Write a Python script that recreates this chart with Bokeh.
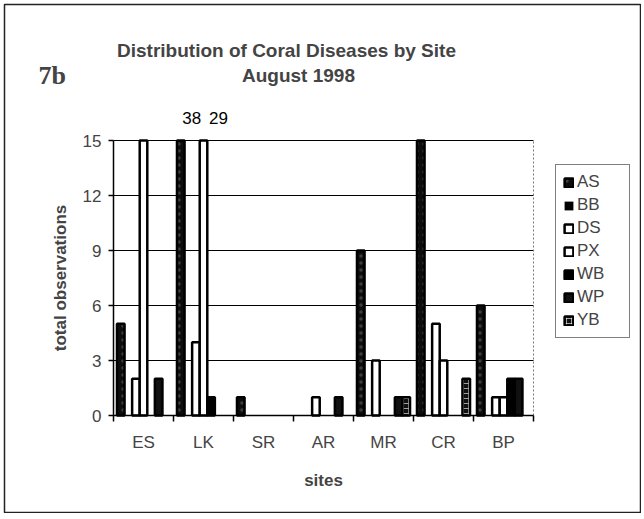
from bokeh.plotting import figure
from bokeh.models import (ColumnDataSource, FixedTicker, Legend, LegendItem, Label,
                          Range1d, LinearAxis)
from bokeh.embed import file_html
from bokeh.resources import INLINE
import numpy as np

sites = ["ES", "LK", "SR", "AR", "MR", "CR", "BP"]
series = ["AS", "BB", "DS", "PX", "WB", "WP", "YB"]
AS = [5, 38, 1, 0, 9, 15, 6]
BB = [0, 0, 0, 0, 0, 0, 0]
DS = [2, 4, 0, 1, 3, 5, 1]
PX = [15, 29, 0, 0, 0, 3, 1]
WB = [0, 1, 0, 0, 0, 0, 2]
WP = [2, 0, 0, 1, 1, 0, 2]
YB = [0, 0, 0, 0, 1, 2, 0]
values = {"AS": AS, "BB": BB, "DS": DS, "PX": PX, "WB": WB, "WP": WP, "YB": YB}
y_ticks = [0, 3, 6, 9, 12, 15]
YMAX = 15
title1 = "Distribution of Coral Diseases by Site"
title2 = "August 1998"
fig_tag = "7b"

styles = {
    "AS": dict(fill_color="#0d0d0d", hatch_pattern="dot", hatch_color="white", hatch_alpha=0.2, hatch_scale=7),
    "BB": dict(fill_color="black"),
    "DS": dict(fill_color="white"),
    "PX": dict(fill_color="white"),
    "WB": dict(fill_color="black"),
    "WP": dict(fill_color="#111111", hatch_pattern="v_line", hatch_color="white", hatch_alpha=0.8, hatch_scale=5, hatch_weight=1),
    "YB": dict(fill_color="#111111", hatch_pattern="cross", hatch_color="white", hatch_alpha=0.6, hatch_scale=5, hatch_weight=1),
}

FONT = "Liberation Sans"
# layout in picture pixels
W, H = 641, 513
BORDER = 4                                     # chart border inset
PA_L, PA_R, PA_T, PA_B = 113, 533, 140, 415    # plot area
UX = (PA_R - PA_L) / len(sites)
UY = (PA_B - PA_T) / YMAX

def dx(px):
    return (px - PA_L) / UX

def dy(py):
    return (PA_B - py) / UY

p = figure(width=W, height=H, output_backend="svg", toolbar_location=None,
           x_range=Range1d(dx(BORDER), dx(W)), y_range=Range1d(dy(H), dy(BORDER)),
           min_border=0, min_border_left=BORDER, min_border_top=BORDER)
p.xaxis.visible = False
p.yaxis.visible = False
p.grid.visible = False
p.outline_line_color = "#222222"
p.outline_line_width = 1.5

# horizontal gridlines across the plot area
grid_src = ColumnDataSource(dict(y=y_ticks[1:]))
p.segment(x0=0, x1=len(sites), y0="y", y1="y", source=grid_src, line_color="black", line_width=1.2)
# dotted right border of plot area
p.segment(x0=[len(sites)], x1=[len(sites)], y0=[0], y1=[YMAX], line_color="#777777",
          line_width=1, line_dash="2 2")

xa = LinearAxis(ticker=FixedTicker(ticks=[i + 0.5 for i in range(len(sites))],
                                   minor_ticks=list(range(len(sites) + 1))),
                major_label_overrides={i + 0.5: s for i, s in enumerate(sites)},
                fixed_location=0, bounds=(0, len(sites)))
xa.major_tick_out = 0
xa.major_tick_in = 0
xa.minor_tick_out = 6
xa.minor_tick_in = 0
xa.axis_line_color = "black"
xa.axis_line_width = 1.5
xa.minor_tick_line_color = "black"
xa.minor_tick_line_width = 1.5
xa.major_label_text_font = FONT
xa.major_label_text_font_size = "17px"
xa.major_label_standoff = 11
xa.axis_label = "sites"
xa.axis_label_text_font = FONT
xa.axis_label_text_font_style = "bold"
xa.axis_label_text_font_size = "17px"
xa.axis_label_standoff = 16
p.add_layout(xa, "below")

ya = LinearAxis(ticker=FixedTicker(ticks=y_ticks), fixed_location=0, bounds=(0, YMAX))
ya.major_tick_out = 5
ya.major_tick_in = 0
ya.minor_tick_out = 0
ya.minor_tick_in = 0
ya.axis_line_color = "black"
ya.axis_line_width = 1.5
ya.major_tick_line_width = 1.5
ya.major_label_text_font = FONT
ya.major_label_text_font_size = "17px"
ya.major_label_standoff = 7
ya.axis_label = "total observations"
ya.axis_label_text_font = FONT
ya.axis_label_text_font_style = "bold"
ya.axis_label_text_font_size = "17px"
ya.axis_label_standoff = 10
p.add_layout(ya, "left")

gap = 0.058
bw = (1 - 2 * gap) / len(series)
items = []
for j, s in enumerate(series):
    vals = np.array(values[s], dtype=float)
    xs = np.arange(len(sites)) + gap + bw * (j + 0.5)
    lw = np.where(vals > 0, 2.5, 0.0)      # no outline drawn for empty bars
    src = ColumnDataSource(dict(x=xs, top=np.minimum(vals, YMAX), v=vals, lw=lw))
    r = p.vbar(x="x", top="top", width=bw, bottom=0, source=src,
               line_color="black", line_width="lw", **styles[s])
    nz = np.flatnonzero(vals > 0)
    idx = int(nz[0]) if len(nz) else 0
    items.append(LegendItem(label=s, renderers=[r], index=idx))

legend = Legend(items=items, location=(555 - BORDER, H - 338), orientation="vertical",
                label_text_font=FONT, label_text_font_size="17px",
                glyph_width=11, glyph_height=11, label_height=20, label_width=45,
                spacing=3, padding=7, margin=0, label_standoff=3,
                border_line_color="black", border_line_width=1,
                background_fill_alpha=1)
p.add_layout(legend, "center")

p.add_layout(Label(x=dx(286), y=dy(50), text=title1, text_align="center", text_baseline="middle",
                   text_font=FONT, text_font_style="bold", text_font_size="19px"))
p.add_layout(Label(x=dx(298), y=dy(75), text=title2, text_align="center", text_baseline="middle",
                   text_font=FONT, text_font_style="bold", text_font_size="19px"))
p.add_layout(Label(x=dx(38), y=dy(75), text=fig_tag, text_align="left", text_baseline="middle",
                   text_font="Liberation Serif", text_font_style="bold", text_font_size="26px"))

label_shift = {"AS": 11, "PX": 15}
for s in ["AS", "PX"]:
    j = series.index(s)
    for i, v in enumerate(values[s]):
        if v > YMAX:
            p.add_layout(Label(x=i + gap + bw * (j + 0.5), y=YMAX, x_offset=label_shift[s],
                               y_offset=PA_T - 117, text=str(v), text_align="center",
                               text_baseline="middle", text_font=FONT,
                               text_font_size="17px", text_color="black"))

open("out.html", "w").write(file_html(p, INLINE))
